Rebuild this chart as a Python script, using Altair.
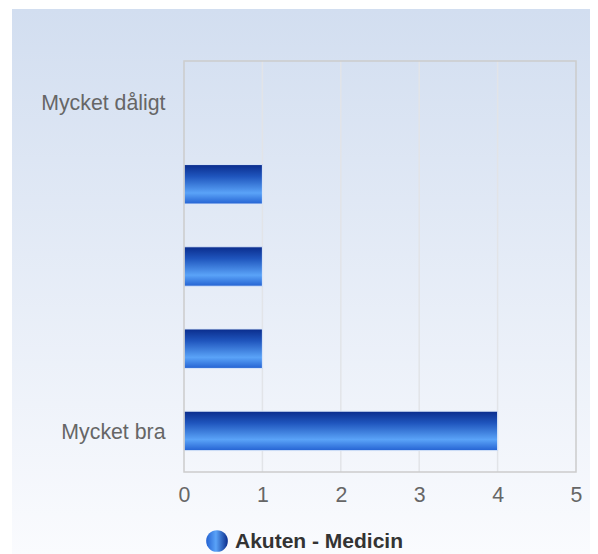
import altair as alt
import pandas as pd

categories = ["Mycket dåligt", " ", "  ", "   ", "Mycket bra"]
values = [0, 1, 1, 1, 4]
x_ticks = [0, 1, 2, 3, 4, 5]
grid_values = [1, 2, 3, 4]
series_name = "Akuten - Medicin"

bars_df = pd.DataFrame({"cat": categories, "val": values, "series": series_name})
grid_df = pd.DataFrame({"g": grid_values})
one = pd.DataFrame({"series": [series_name]})

W, H = 392, 411
FONT = "Liberation Sans"
FS = 21.3

x_scale = alt.Scale(domain=[0, 5], nice=False, zero=True)
y_scale = alt.Scale(domain=categories, paddingInner=0.52, paddingOuter=0.26)

x_axis = alt.Axis(values=x_ticks, grid=False, domain=False, ticks=False,
                  labelFontSize=FS, labelColor="#666666", labelFont=FONT,
                  labelFlush=False, labelPadding=12, title=None, zindex=1)

bg_grad = alt.Gradient(
    gradient="linear", x1=0, x2=0, y1=0, y2=1,
    stops=[alt.GradientStop(color="#d2def0", offset=0),
           alt.GradientStop(color="#fafbfe", offset=1)],
)
bar_grad = alt.Gradient(
    gradient="linear", x1=0, x2=0, y1=0, y2=1,
    stops=[alt.GradientStop(color="#0a2c8c", offset=0),
           alt.GradientStop(color="#1f55bd", offset=0.3),
           alt.GradientStop(color="#5aa3f8", offset=0.72),
           alt.GradientStop(color="#2462d2", offset=1)],
)
leg_grad = alt.Gradient(
    gradient="linear", x1=0, x2=1, y1=0, y2=0,
    stops=[alt.GradientStop(color="#2462d2", offset=0),
           alt.GradientStop(color="#5aa3f8", offset=0.45),
           alt.GradientStop(color="#0a2c8c", offset=1)],
)

bg = alt.Chart(one).mark_rect(fill=bg_grad).encode(
    x=alt.value(-172), x2=alt.value(406), y=alt.value(-52), y2=alt.value(493)
)

grid = alt.Chart(grid_df).mark_rule(color="#e2e4e8", strokeWidth=1.5).encode(
    x=alt.X("g:Q", scale=x_scale, axis=x_axis),
    y=alt.value(0), y2=alt.value(H),
)

bars = alt.Chart(bars_df).transform_filter("datum.val > 0").mark_bar(
    fill=bar_grad, stroke="#dce8fa", strokeWidth=1
).encode(
    x=alt.X("val:Q", scale=x_scale, axis=x_axis),
    y=alt.Y("cat:N", scale=y_scale, sort=categories,
            axis=alt.Axis(grid=False, domain=False, ticks=False,
                          labelFontSize=FS, labelColor="#666666", labelFont=FONT,
                          labelPadding=19, labelOffset=2, title=None, zindex=1)),
)

border = alt.Chart(one).mark_rect(fillOpacity=0, stroke="#cccccc", strokeWidth=1.5).encode(
    x=alt.value(0), x2=alt.value(W), y=alt.value(0), y2=alt.value(H)
)

leg_pt = alt.Chart(one).mark_point(shape="circle", filled=True, size=470,
                                   fill=leg_grad, opacity=1).encode(
    x=alt.value(33), y=alt.value(480)
)
leg_txt = alt.Chart(one).mark_text(align="left", baseline="middle", fontSize=21,
                                   fontWeight="bold", color="#333333", font=FONT).encode(
    x=alt.value(51), y=alt.value(481), text="series:N"
)

chart = alt.layer(bg, grid, bars, border, leg_pt, leg_txt).properties(
    width=W, height=H,
    padding={"left": 176, "top": 53, "right": 14, "bottom": 82},
    autosize="none",
).configure_view(strokeWidth=0)

chart.save("out.html", embed_options={"renderer": "svg", "actions": False})
